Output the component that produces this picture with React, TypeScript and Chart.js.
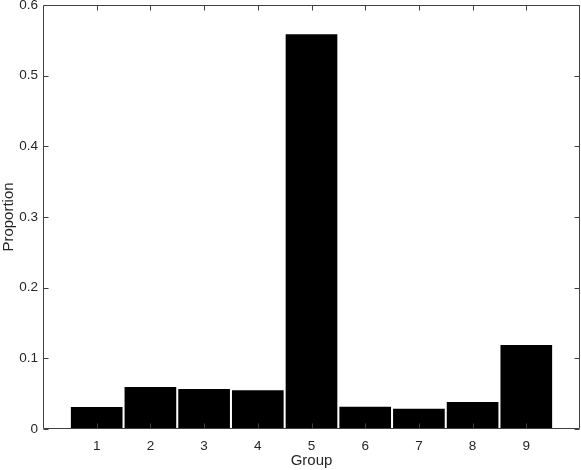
import React, { useEffect, useRef } from "react";
import { Chart, registerables } from "chart.js";

Chart.register(...registerables);

const groups = [1, 2, 3, 4, 5, 6, 7, 8, 9];
const proportions = [0.0312, 0.0595, 0.0567, 0.0548, 0.5587, 0.0316, 0.0288, 0.0383, 0.119];
const yTicks = [0, 0.1, 0.2, 0.3, 0.4, 0.5, 0.6];
const xLabel = "Group";
const yLabel = "Proportion";

const FONT = "'Liberation Sans', Arial, Helvetica, sans-serif";
const TEXT = "#262626";
const AXIS = "#404040";

const boxTicks = {
  id: "boxTicks",
  afterDatasetsDraw(chart: any) {
    const { ctx, chartArea: a, scales } = chart;
    const x = scales.x;
    const y = scales.y;
    const L = Math.round(a.left) + 0.5;
    const R = Math.round(a.right) - 0.5;
    const T = Math.round(a.top) + 0.5;
    const B = Math.round(a.bottom) - 0.5;
    const len = 5;
    ctx.save();
    ctx.strokeStyle = AXIS;
    ctx.lineWidth = 1;
    ctx.beginPath();
    ctx.moveTo(L, T);
    ctx.lineTo(R, T);
    ctx.lineTo(R, B);
    ctx.lineTo(L, B);
    ctx.closePath();
    for (const v of groups) {
      const px = Math.round(x.getPixelForValue(v)) + 0.5;
      ctx.moveTo(px, B);
      ctx.lineTo(px, B - len);
      ctx.moveTo(px, T);
      ctx.lineTo(px, T + len);
    }
    for (const v of yTicks) {
      const py = Math.round(y.getPixelForValue(v)) + 0.5;
      ctx.moveTo(L, py);
      ctx.lineTo(L + len, py);
      ctx.moveTo(R, py);
      ctx.lineTo(R - len, py);
    }
    ctx.stroke();
    ctx.restore();
  },
};

export default function App() {
  const ref = useRef<HTMLCanvasElement | null>(null);
  useEffect(() => {
    if (!ref.current) return;
    const chart = new Chart(ref.current, {
      type: "bar",
      data: {
        datasets: [
          {
            data: groups.map((g, i) => ({ x: g, y: proportions[i] })),
            backgroundColor: "#000000",
            borderWidth: 0,
            barPercentage: 0.962,
            categoryPercentage: 1,
          },
        ],
      },
      options: {
        animation: false,
        responsive: false,
        maintainAspectRatio: false,
        layout: { padding: { top: 5, right: 1, left: 0, bottom: 0 } },
        plugins: { legend: { display: false }, tooltip: { enabled: false } },
        scales: {
          x: {
            type: "linear",
            min: 0,
            max: 10,
            offset: false,
            grid: { display: false, drawTicks: false },
            border: { display: false },
            afterBuildTicks: (s: any) => {
              s.ticks = groups.map((v) => ({ value: v }));
            },
            afterFit: (s: any) => {
              s.height = 41;
              s.paddingLeft = 0;
              s.paddingRight = 0;
            },
            ticks: {
              padding: 9,
              color: TEXT,
              font: { family: FONT, size: 13.5 },
              maxRotation: 0,
              autoSkip: false,
              callback: (v: any) => String(v),
            },
            title: {
              display: true,
              text: xLabel,
              color: TEXT,
              font: { family: FONT, size: 15 },
              padding: { top: 0, bottom: 0 },
            },
          },
          y: {
            type: "linear",
            min: 0,
            max: 0.6,
            grid: { display: false, drawTicks: false },
            border: { display: false },
            afterBuildTicks: (s: any) => {
              s.ticks = yTicks.map((v) => ({ value: v }));
            },
            afterFit: (s: any) => {
              s.width = 43;
              s.paddingTop = 0;
              s.paddingBottom = 0;
            },
            ticks: {
              padding: 5,
              color: TEXT,
              font: { family: FONT, size: 13.5 },
              callback: (v: any) => String(Math.round(Number(v) * 10) / 10),
            },
            title: {
              display: true,
              text: yLabel,
              color: TEXT,
              font: { family: FONT, size: 15 },
              padding: { top: 0, bottom: 0 },
            },
          },
        },
      },
      plugins: [boxTicks],
    });
    return () => chart.destroy();
  }, []);
  return (
    <div style={{ position: "fixed", left: 0, top: 0, width: 581, height: 470, background: "#fff" }}>
      <canvas ref={ref} width={581} height={470} style={{ width: 581, height: 470, display: "block" }} />
    </div>
  );
}
